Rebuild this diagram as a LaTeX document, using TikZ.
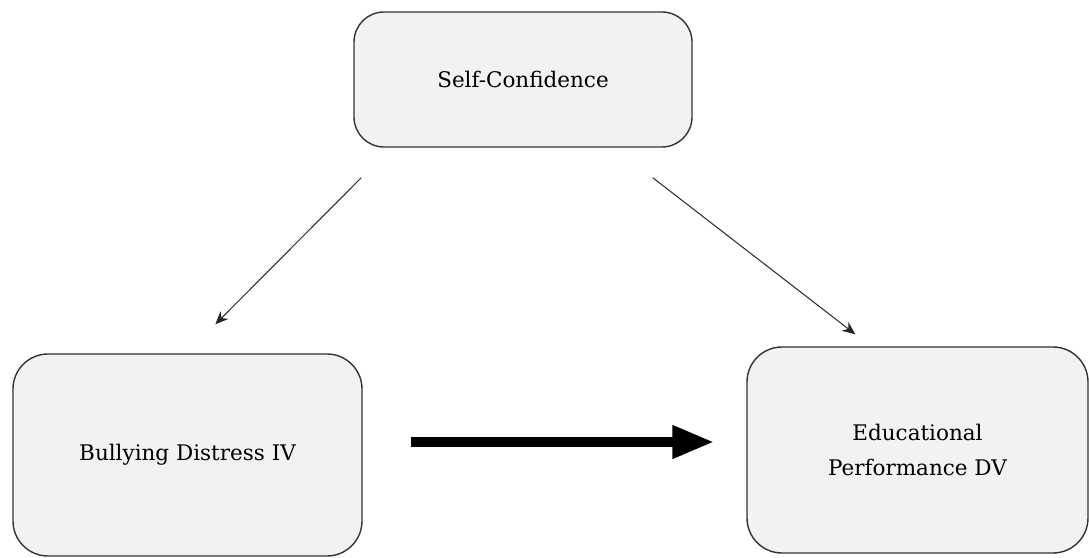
\documentclass[tikz,border=0pt]{standalone}
\usepackage{fontspec}
\setmainfont{DejaVu Serif}
\usetikzlibrary{calc, arrows.meta}

\tikzset{
  varbox/.style={draw=black!80, line width=1.4pt, fill=black!5, rounded corners=35pt, align=center, inner sep=0pt, font=\fontsize{21.5}{35}\selectfont},
  thinarrow/.style={-{Stealth[length=13pt, width=11pt]}, line width=1pt, black!85},
  thickarrow/.style={-{Triangle[length=42pt, width=31pt]}, line width=10pt}
}

\begin{document}
\begin{tikzpicture}[x=1pt, y=1pt]
\useasboundingbox (0,0) rectangle (1089,557);
\node[varbox, rounded corners=30pt, minimum width=338pt, minimum height=135pt] (self) at (523,477.5) {Self-Confidence};
\node[varbox, minimum width=349pt, minimum height=202pt] (bully) at (187.5,102) {Bullying Distress IV};
\node[varbox, minimum width=341pt, minimum height=206pt] (edu) at (917.5,107) {Educational\\Performance DV};
\draw[thinarrow] ($(self.south west)+(8,-30)$) -- ($(bully.north west)+(203,29)$);
\draw[thinarrow] ($(self.south east)+(-40,-30)$) -- ($(edu.north west)+(109,12)$);
\draw[thickarrow] ($(bully.east)+(48,13)$) -- ($(edu.west)+(-32,8)$);
\end{tikzpicture}
\end{document}
